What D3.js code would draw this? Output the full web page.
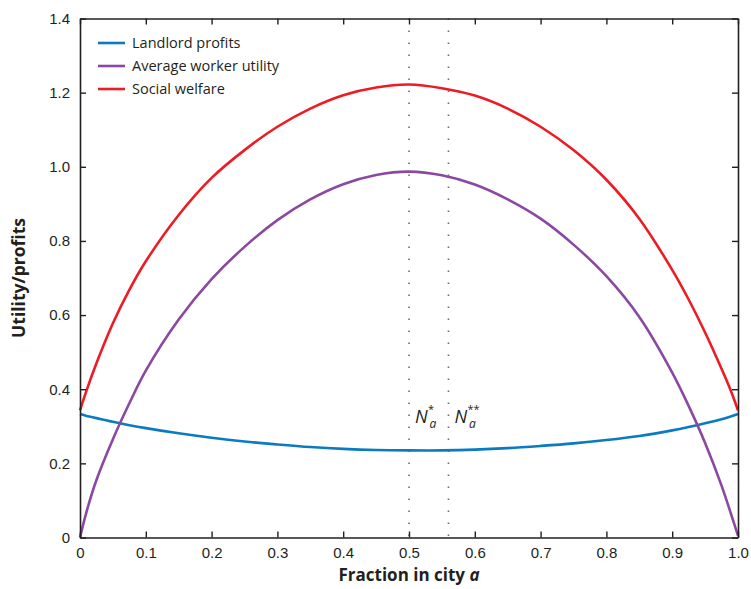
<!DOCTYPE html>
<html>
<head>
<meta charset="utf-8">
<script src="https://cdn.jsdelivr.net/npm/d3@7"></script>
<style>
  body { margin: 0; background: #fff; }
  svg { display: block; font-family: "Open Sans", "Noto Sans", sans-serif; }
  .tick text { fill: #231f20; font-size: 15px; }
  .tick line, .domain { stroke: #231f20; }
</style>
</head>
<body>
<div id="chart"></div>
<script>
// fraction in city a
const fractions = [0, 0.01, 0.025, 0.05, 0.075, 0.1, 0.15, 0.2, 0.25, 0.3, 0.35, 0.4, 0.45, 0.5,
  0.55, 0.6, 0.65, 0.7, 0.75, 0.8, 0.85, 0.9, 0.925, 0.95, 0.975, 0.99, 1.0];

const landlordProfits = [0.333, 0.328, 0.322, 0.312, 0.303, 0.295, 0.281, 0.269, 0.259, 0.251, 0.244,
  0.239, 0.236, 0.235, 0.235, 0.237, 0.241, 0.247, 0.254, 0.263, 0.274, 0.289, 0.298, 0.308, 0.319, 0.327, 0.333];

const workerUtility = [0, 0.07, 0.155, 0.265, 0.362, 0.45, 0.588, 0.697, 0.784, 0.856, 0.912,
  0.953, 0.978, 0.987, 0.977, 0.952, 0.912, 0.86, 0.79, 0.705, 0.595, 0.445, 0.355, 0.255, 0.14, 0.06, 0.005];

const socialWelfare = [0.343, 0.397, 0.47, 0.578, 0.668, 0.745, 0.87, 0.97, 1.045, 1.108, 1.157,
  1.193, 1.214, 1.222, 1.212, 1.192, 1.157, 1.108, 1.045, 0.965, 0.86, 0.722, 0.642, 0.553, 0.455, 0.392, 0.343];

const seriesNames = ['Landlord profits', 'Average worker utility', 'Social welfare'];
const seriesColors = ['#0b7bc1', '#8b48a3', '#ec1c24'];

const xTicks = [0, 0.1, 0.2, 0.3, 0.4, 0.5, 0.6, 0.7, 0.8, 0.9, 1.0];
const xTickLabels = ['0', '0.1', '0.2', '0.3', '0.4', '0.5', '0.6', '0.7', '0.8', '0.9', '1.0'];
const yTicks = [0, 0.2, 0.4, 0.6, 0.8, 1.0, 1.2, 1.4];
const yTickLabels = ['0', '0.2', '0.4', '0.6', '0.8', '1.0', '1.2', '1.4'];

// optimum markers
const markers = [
  { x: 0.5, sup: '*' },
  { x: 0.56, sup: '**' },
];

const width = 751;
const height = 589;
const margin = { top: 18.5, right: 13, bottom: 51.5, left: 80 };

const svg = d3.select('#chart')
  .append('svg')
  .attr('width', width)
  .attr('height', height);

const xScale = d3.scaleLinear().domain([0, 1]).range([margin.left, width - margin.right]);
const yScale = d3.scaleLinear().domain([0, 1.4]).range([height - margin.bottom, margin.top]);

// dotted verticals
svg.append('g')
  .selectAll('line')
  .data(markers)
  .join('line')
  .attr('x1', d => xScale(d.x))
  .attr('x2', d => xScale(d.x))
  .attr('y1', yScale(1.4))
  .attr('y2', yScale(0))
  .attr('stroke', '#6d6e71')
  .attr('stroke-width', 1.6)
  .attr('stroke-dasharray', '1.6,10.4');

// N_a labels, pieces as separate texts
const labelY = yScale(0.31);
const mk = svg.append('g').selectAll('g').data(markers).join('g')
  .attr('transform', d => `translate(${xScale(d.x) + 6}, ${labelY})`)
  .attr('fill', '#231f20');
mk.append('text').style('font-style', 'italic').style('font-size', '18px').text('N');
mk.append('text').attr('x', 14.5).attr('y', 5).style('font-style', 'italic').style('font-size', '12px').text('a');
mk.append('text').attr('x', 13).attr('y', -10).style('font-size', '11px').text(d => d.sup);

// curves
const allSeries = [landlordProfits, workerUtility, socialWelfare];
const line = d3.line()
  .x((d, i) => xScale(fractions[i]))
  .y(d => yScale(d))
  .curve(d3.curveCatmullRom.alpha(0.5));

svg.append('g')
  .selectAll('path')
  .data(allSeries)
  .join('path')
  .attr('d', d => line(d))
  .attr('fill', 'none')
  .attr('stroke', (d, i) => seriesColors[i])
  .attr('stroke-width', 2.6);

// axes, ticks pointing inward on all four sides
const innerW = width - margin.left - margin.right;
const innerH = height - margin.top - margin.bottom;

const xAxis = d3.axisBottom(xScale).tickValues(xTicks)
  .tickFormat((d, i) => xTickLabels[i]).tickSizeInner(-6).tickSizeOuter(0).tickPadding(10);
const yAxis = d3.axisLeft(yScale).tickValues(yTicks)
  .tickFormat((d, i) => yTickLabels[i]).tickSizeInner(-6).tickSizeOuter(0).tickPadding(10);

svg.append('g')
  .attr('transform', `translate(0, ${height - margin.bottom})`)
  .call(xAxis);
svg.append('g')
  .attr('transform', `translate(${margin.left}, 0)`)
  .call(yAxis);
svg.append('g')
  .attr('transform', `translate(0, ${margin.top})`)
  .call(d3.axisTop(xScale).tickValues(xTicks).tickFormat('').tickSizeInner(-6).tickSizeOuter(0));
svg.append('g')
  .attr('transform', `translate(${width - margin.right}, 0)`)
  .call(d3.axisRight(yScale).tickValues(yTicks).tickFormat('').tickSizeInner(-6).tickSizeOuter(0));

svg.selectAll('.domain').attr('stroke-width', 1.6);
svg.selectAll('.tick line').attr('stroke-width', 1.4);

// legend
const legend = svg.append('g')
  .selectAll('g')
  .data(seriesNames)
  .join('g')
  .attr('transform', (d, i) => `translate(98, ${43 + i * 23})`);
legend.append('line')
  .attr('x1', 0).attr('x2', 27)
  .attr('stroke', (d, i) => seriesColors[i])
  .attr('stroke-width', 2.6);
legend.append('text')
  .attr('x', 34)
  .attr('dy', '0.35em')
  .attr('fill', '#231f20')
  .style('font-size', '14.5px')
  .text(d => d);

// axis titles
const xTitle = svg.append('text')
  .attr('x', margin.left + innerW / 2)
  .attr('y', height - 8)
  .attr('text-anchor', 'middle')
  .attr('fill', '#231f20')
  .style('font-size', '17px')
  .style('font-weight', 'bold');
xTitle.append('tspan').text('Fraction in city ');
xTitle.append('tspan').style('font-style', 'italic').text('a');

svg.append('text')
  .attr('transform', `translate(25, ${margin.top + innerH / 2}) rotate(-90)`)
  .attr('text-anchor', 'middle')
  .attr('fill', '#231f20')
  .style('font-size', '17.5px')
  .style('font-weight', 'bold')
  .text('Utility/profits');
</script>
</body>
</html>
